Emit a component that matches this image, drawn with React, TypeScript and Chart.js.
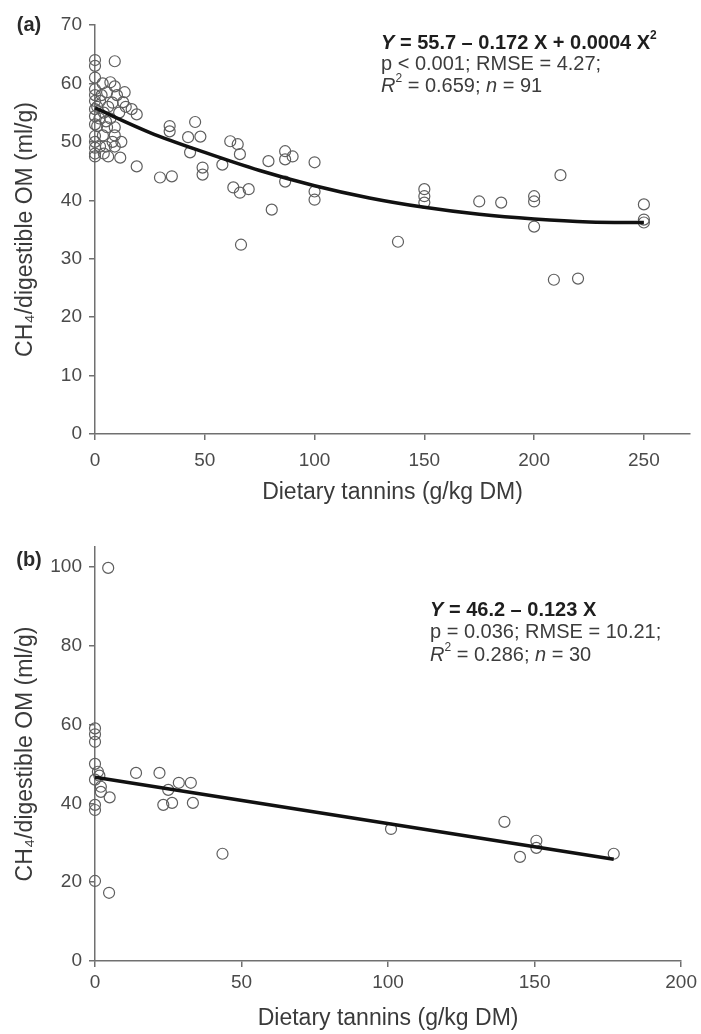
import { useEffect, useRef } from "react";
import { Chart, registerables } from "chart.js";
Chart.register(...registerables);

const FONT = '"Liberation Sans", Arial, Helvetica, sans-serif';

// ---------- data ----------
const xTicksA = [0, 50, 100, 150, 200, 250];
const yTicksA = [0, 10, 20, 30, 40, 50, 60, 70];
const xTicksB = [0, 50, 100, 150, 200];
const yTicksB = [0, 20, 40, 60, 80, 100];

const tanninsA = [0, 0, 0, 9, 3.5, 7, 9, 5.5, 13.5, 2.3, 8, 12.8, 16.7, 19, 0, 0, 1, 5.5, 9, 0, 3.6, 9, 2.3, 5, 9, 0, 6, 11.5, 19, 29.6, 35, 34, 34, 45.6, 42.4, 48, 43.3, 49, 49, 58, 61.6, 65, 66, 63, 66, 70, 66.5, 79, 80.5, 86.6, 86.6, 90, 86.6, 100, 100, 100, 150, 150, 150, 138, 175, 185, 200, 200, 200, 212, 250, 250, 250, 209, 220, 0, 0, 0, 0, 0, 0, 0, 1, 2, 3, 4, 5, 6, 7, 8, 10, 11, 12, 14, 4];
const methaneA = [64, 63, 61, 63.8, 60, 60.2, 59.5, 58.5, 58.5, 57, 56.7, 56.8, 55.6, 54.7, 55.6, 54.4, 52.7, 52.5, 52.5, 51, 51.1, 51.1, 49.2, 49.2, 49.2, 47.5, 47.5, 47.3, 45.8, 43.9, 44.1, 52.7, 51.8, 53.4, 50.8, 50.9, 48.2, 45.6, 44.4, 46.1, 50.1, 49.6, 47.9, 42.2, 41.3, 41.9, 32.4, 46.7, 38.4, 48.4, 47, 47.5, 43.2, 46.5, 41.5, 40.1, 41.9, 40.7, 39.6, 32.9, 39.8, 39.6, 40.7, 39.8, 35.5, 44.3, 39.3, 36.7, 36.2, 26.4, 26.6, 59, 58, 57, 53, 50, 49, 48, 56, 54, 58, 55, 53.5, 56, 54, 50, 58, 55, 50, 56, 48];
const fitXA = [0, 25, 50, 75, 100, 125, 150, 175, 200, 225, 250];
const fitYA = [55.8, 51.6, 48.2, 45.1, 42.5, 40.4, 38.8, 37.6, 36.8, 36.3, 36.2];

const tanninsB = [4.5, 0, 0, 0, 0, 1, 1.5, 2, 2, 5, 0, 0, 0, 4.8, 14, 22, 23.3, 26.3, 25, 28.6, 32.7, 33.4, 43.5, 101, 139.7, 145, 150.6, 150.6, 177, 0];
const methaneB = [99.7, 59, 57.5, 55.6, 50, 48, 47, 44.2, 42.9, 41.5, 39.6, 38.3, 20.3, 17.3, 47.7, 47.7, 39.6, 40.1, 43.4, 45.2, 45.2, 40.1, 27.2, 33.5, 35.3, 26.4, 30.5, 28.7, 27.2, 46];
const fitXB = [0, 177];
const fitYB = [46.6, 25.8];

const xTitle = "Dietary tannins (g/kg DM)";
const yTitle = "CH\u2084/digestible OM (ml/g)";

type Seg = { t: string; b?: boolean; i?: boolean; sup?: boolean };
const annotationA: Seg[][] = [
  [{ t: "Y", b: true, i: true }, { t: " = 55.7 \u2013 0.172 X + 0.0004 X", b: true }, { t: "2", b: true, sup: true }],
  [{ t: "p < 0.001; RMSE = 4.27;" }],
  [{ t: "R", i: true }, { t: "2", sup: true }, { t: " = 0.659; " }, { t: "n", i: true }, { t: " = 91" }],
];
const annotationB: Seg[][] = [
  [{ t: "Y", b: true, i: true }, { t: " = 46.2 \u2013 0.123 X", b: true }],
  [{ t: "p = 0.036; RMSE = 10.21;" }],
  [{ t: "R", i: true }, { t: "2", sup: true }, { t: " = 0.286; " }, { t: "n", i: true }, { t: " = 30" }],
];

// ---------- drawing helpers ----------
function drawRich(ctx: CanvasRenderingContext2D, lines: Seg[][], x: number, y: number, gap: number, size: number) {
  ctx.save();
  ctx.textBaseline = "middle";
  ctx.textAlign = "left";
  lines.forEach((line, li) => {
    let cx = x;
    const cy = y + li * gap;
    line.forEach((seg) => {
      const fs = seg.sup ? size * 0.6 : size;
      ctx.font = `${seg.i ? "italic " : ""}${seg.b ? "bold " : ""}${fs}px ${FONT}`;
      ctx.fillStyle = seg.b ? "#1e1e1e" : "#3c3c3c";
      ctx.fillText(seg.t, cx, seg.sup ? cy - size * 0.38 : cy);
      cx += ctx.measureText(seg.t).width;
    });
  });
  ctx.restore();
}

function makePlugin(label: string, labelY: number, lines: Seg[][], ax: number, ay: number, gap: number) {
  return {
    id: "annot" + label,
    afterDraw(chart: any) {
      const ctx = chart.ctx as CanvasRenderingContext2D;
      ctx.save();
      ctx.font = `bold 20px ${FONT}`;
      ctx.fillStyle = "#2a2a2a";
      ctx.textAlign = "center";
      ctx.textBaseline = "middle";
      ctx.fillText(label, 29, labelY);
      ctx.restore();
      drawRich(ctx, lines, ax, ay, gap, 20);
    },
  };
}

function makeConfig(opts: {
  xs: number[]; ys: number[]; fx: number[]; fy: number[];
  xTicks: number[]; yTicks: number[]; xMax: number; yMax: number;
  padTop: number; padRight: number; xHeight: number; tickPad: number; titlePad: number;
  plugin: any;
}): any {
  const axisColor = "#707070";
  const common = {
    grid: { display: true, drawOnChartArea: false, drawTicks: true, tickLength: 6, color: axisColor, lineWidth: 1.5 },
    border: { display: true, color: axisColor, width: 1.5 },
  };
  return {
    type: "scatter",
    data: {
      datasets: [
        {
          data: opts.fx.map((x, i) => ({ x, y: opts.fy[i] })),
          showLine: true,
          borderColor: "#111111",
          borderWidth: 3.5,
          pointRadius: 0,
          cubicInterpolationMode: "monotone",
          clip: false,
        },
        {
          data: opts.xs.map((x, i) => ({ x, y: opts.ys[i] })),
          pointRadius: 5.5,
          pointBorderWidth: 1.2,
          borderColor: "#5e5e5e",
          backgroundColor: "rgba(0,0,0,0)",
          pointBackgroundColor: "rgba(0,0,0,0)",
          clip: false,
        },
      ],
    },
    options: {
      animation: false,
      responsive: false,
      devicePixelRatio: 1,
      layout: { padding: { top: opts.padTop, right: opts.padRight, left: 0, bottom: 0 } },
      plugins: { legend: { display: false }, tooltip: { enabled: false } },
      scales: {
        x: {
          type: "linear",
          min: 0,
          max: opts.xMax,
          ...common,
          afterBuildTicks: (s: any) => { s.ticks = opts.xTicks.map((v) => ({ value: v })); },
          afterFit: (s: any) => { s.height = opts.xHeight; },
          ticks: { color: "#4a4a4a", font: { family: FONT, size: 19 }, padding: opts.tickPad, maxRotation: 0 },
          title: { display: true, text: xTitle, color: "#3a3a3a", font: { family: FONT, size: 23 }, padding: { top: 0, bottom: opts.titlePad } },
        },
        y: {
          type: "linear",
          min: 0,
          max: opts.yMax,
          ...common,
          afterBuildTicks: (s: any) => { s.ticks = opts.yTicks.map((v) => ({ value: v })); },
          afterFit: (s: any) => { s.width = 95; },
          ticks: { color: "#4a4a4a", font: { family: FONT, size: 19 }, padding: 7 },
          title: { display: true, text: yTitle, color: "#3a3a3a", font: { family: FONT, size: 23 }, padding: { top: 12, bottom: 0 } },
        },
      },
    },
    plugins: [opts.plugin],
  };
}

function ChartCanvas({ config, top }: { config: any; top: number }) {
  const ref = useRef<HTMLCanvasElement | null>(null);
  useEffect(() => {
    if (!ref.current) return;
    const chart = new Chart(ref.current, config);
    return () => chart.destroy();
  }, [config]);
  return (
    <canvas
      ref={ref}
      width={701}
      height={517}
      style={{ position: "absolute", left: 0, top, width: 701, height: 517 }}
    />
  );
}

const configA = makeConfig({
  xs: tanninsA, ys: methaneA, fx: fitXA, fy: fitYA,
  xTicks: xTicksA, yTicks: yTicksA, xMax: 271, yMax: 70,
  padTop: 25, padRight: 11, xHeight: 83, tickPad: 9, titlePad: 11,
  plugin: makePlugin("(a)", 25, annotationA, 381, 43, 21.5),
});

const configB = makeConfig({
  xs: tanninsB, ys: methaneB, fx: fitXB, fy: fitYB,
  xTicks: xTicksB, yTicks: yTicksB, xMax: 200, yMax: 105,
  padTop: 30, padRight: 13, xHeight: 73, tickPad: 4, titlePad: 2,
  plugin: makePlugin("(b)", 43, annotationB, 430, 93, 22.5),
});

export default function App() {
  return (
    <div style={{ position: "absolute", left: 0, top: 0, width: 701, height: 1034, background: "#ffffff" }}>
      <ChartCanvas config={configA} top={0} />
      <ChartCanvas config={configB} top={517} />
    </div>
  );
}
